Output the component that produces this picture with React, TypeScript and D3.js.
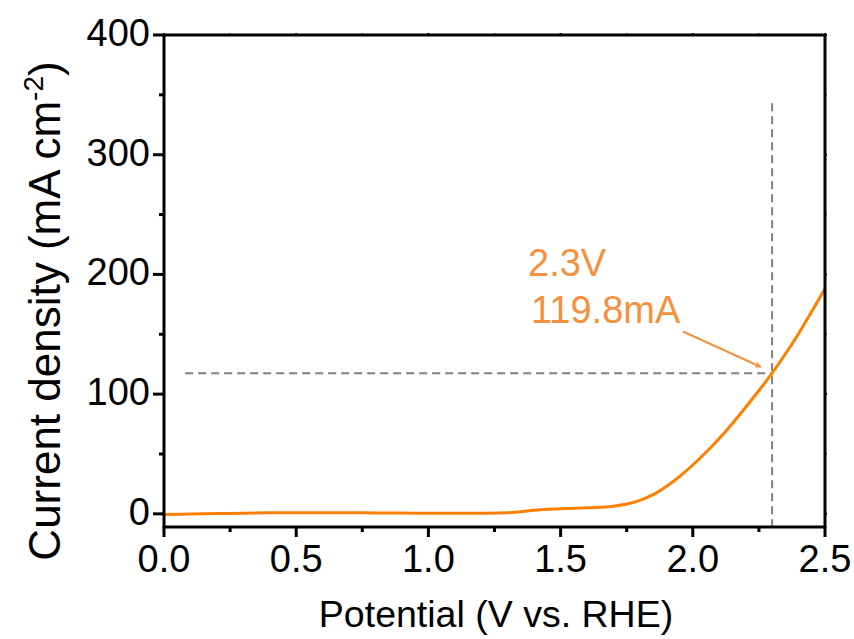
import React from "react";
import * as d3 from "d3";

const potential = [0, 0.1, 0.2, 0.3, 0.4, 0.5, 0.6, 0.7, 0.8, 0.9, 1.0, 1.1, 1.2, 1.3, 1.35, 1.4, 1.5, 1.6, 1.65, 1.7, 1.75, 1.8, 1.85, 1.9, 1.95, 2.0, 2.05, 2.1, 2.15, 2.2, 2.25, 2.3, 2.35, 2.4, 2.45, 2.5];
const current = [-0.5, -0.2, 0.2, 0.5, 0.8, 1.0, 1.0, 0.9, 0.7, 0.6, 0.5, 0.4, 0.5, 0.8, 1.8, 3.0, 4.2, 5.0, 5.5, 6.4, 8.2, 11.3, 16, 22.8, 31.2, 40.8, 51.4, 63, 75.5, 89, 103, 117.5, 133.5, 150.5, 169, 188];

const xTicks = [0, 0.5, 1.0, 1.5, 2.0, 2.5];
const xMinor = [0.25, 0.75, 1.25, 1.75, 2.25];
const yTicks = [0, 100, 200, 300, 400];
const yMinor = [50, 150, 250, 350];

const markV = 2.3;
const markI = 117.5;
const hLineStart = 0.08;
const vLineTop = 343;
const labelLines = ["2.3V", "119.8mA"];

const W = 854, H = 639;
const m = { left: 164, right: 29, top: 35, bottom: 112 };

export default function App() {
  const x = d3.scaleLinear().domain([0, 2.5]).range([m.left, W - m.right]);
  const y = d3.scaleLinear().domain([-11, 400]).range([H - m.bottom, m.top]);
  const pts = potential.map((v, i) => [v, current[i]] as [number, number]);
  const line = d3.line<[number, number]>().x(d => x(d[0])).y(d => y(d[1])).curve(d3.curveMonotoneX);
  const x0 = m.left, x1 = W - m.right, y0 = H - m.bottom, y1 = m.top;
  const font = "Arial, 'Liberation Sans', sans-serif";
  const annColor = "#F5913E";
  return (
    <svg width={W} height={H} style={{ position: "absolute", left: 0, top: 0, background: "#fff" }} fontFamily={font}>
      <defs>
        <marker id="arr" viewBox="0 0 10 10" refX="9" refY="5" markerWidth="6" markerHeight="6" orient="auto" markerUnits="userSpaceOnUse">
          <path d="M0,0 L10,5 L0,10 z" fill={annColor} />
        </marker>
      </defs>
      {/* dashed guides */}
      <line x1={x(hLineStart)} x2={x(markV)} y1={y(markI)} y2={y(markI)} stroke="#808080" strokeWidth={2} strokeDasharray="8,5" />
      <line x1={x(markV)} x2={x(markV)} y1={y(vLineTop)} y2={y0} stroke="#808080" strokeWidth={2} strokeDasharray="8,5" />
      {/* curve */}
      <path d={line(pts) || ""} fill="none" stroke="#FF8000" strokeWidth={3} />
      {/* frame */}
      <rect x={x0} y={y1} width={x1 - x0} height={y0 - y1} fill="none" stroke="#000" strokeWidth={3} />
      {/* x ticks */}
      {xTicks.map(t => (
        <g key={"xt" + t}>
          <line x1={x(t)} x2={x(t)} y1={y0} y2={y0 + 10} stroke="#000" strokeWidth={3} />
          <line x1={x(t)} x2={x(t)} y1={y1} y2={y1 - 2} stroke="#000" strokeWidth={2} />
          <text x={x(t)} y={572} textAnchor="middle" fontSize={38}>{t.toFixed(1)}</text>
        </g>
      ))}
      {xMinor.map(t => (
        <g key={"xm" + t}>
          <line x1={x(t)} x2={x(t)} y1={y0} y2={y0 + 5} stroke="#000" strokeWidth={3} />
          <line x1={x(t)} x2={x(t)} y1={y1} y2={y1 - 1.5} stroke="#000" strokeWidth={2} />
        </g>
      ))}
      {yTicks.map(t => (
        <g key={"yt" + t}>
          <line x1={x0} x2={x0 - 11} y1={y(t)} y2={y(t)} stroke="#000" strokeWidth={3} />
          <line x1={x1} x2={x1 + 2} y1={y(t)} y2={y(t)} stroke="#000" strokeWidth={2} />
          <text x={150} y={y(t) + 11} textAnchor="end" fontSize={38}>{t}</text>
        </g>
      ))}
      {yMinor.map(t => (
        <g key={"ym" + t}>
          <line x1={x0} x2={x0 - 5} y1={y(t)} y2={y(t)} stroke="#000" strokeWidth={3} />
          <line x1={x1} x2={x1 + 1.5} y1={y(t)} y2={y(t)} stroke="#000" strokeWidth={2} />
        </g>
      ))}
      {/* axis titles */}
      <text x={496} y={627} textAnchor="middle" fontSize={37.5}>Potential (V vs. RHE)</text>
      <text transform={`translate(60, 311) rotate(-90)`} textAnchor="middle" fontSize={44}>
        Current density (mA cm<tspan dy={-17} fontSize={28}>-2</tspan><tspan dy={17}>)</tspan>
      </text>
      {/* annotation */}
      <text x={528} y={276} fontSize={38} fill={annColor}>{labelLines[0]}</text>
      <text x={531} y={322.5} fontSize={38} fill={annColor}>{labelLines[1]}</text>
      <line x1={683} y1={331.5} x2={761} y2={367} stroke={annColor} strokeWidth={2} markerEnd="url(#arr)" />
    </svg>
  );
}
